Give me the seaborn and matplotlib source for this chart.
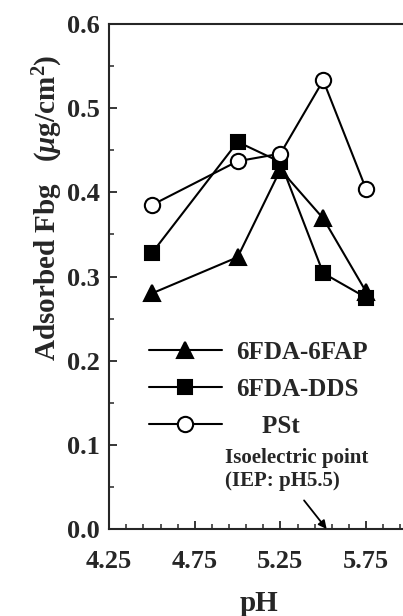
import matplotlib
matplotlib.use("Agg")
import matplotlib.pyplot as plt
import seaborn as sns
import pandas as pd
from matplotlib.ticker import MultipleLocator, FixedLocator

# values
ph = [4.5, 5.0, 5.25, 5.5, 5.75]
fap_6fda = [0.280, 0.323, 0.427, 0.369, 0.282]
dds_6fda = [0.328, 0.460, 0.436, 0.304, 0.275]
pst = [0.385, 0.437, 0.446, 0.533, 0.404]

series_names = ["6FDA-6FAP", "6FDA-DDS", "    PSt"]
x_ticks = [4.25, 4.75, 5.25, 5.75]

sns.set_style("ticks")
plt.rcParams["font.family"] = ["Liberation Serif", "DejaVu Serif"]
plt.rcParams["font.weight"] = "bold"
plt.rcParams["mathtext.fontset"] = "custom"
plt.rcParams["mathtext.rm"] = "Liberation Serif:bold"
plt.rcParams["mathtext.it"] = "Liberation Serif:italic:bold"
plt.rcParams["mathtext.bf"] = "Liberation Serif:bold"

df = pd.DataFrame({
    "pH": ph * 3,
    "Fbg": fap_6fda + dds_6fda + pst,
    "series": [series_names[0]] * 5 + [series_names[1]] * 5 + [series_names[2]] * 5,
})

fig = plt.figure(figsize=(4.03, 6.16), dpi=100)
ax = fig.add_axes([0.271, 0.1412, 0.7435, 0.8198])

styles = {
    series_names[0]: dict(marker="^", markersize=12, markerfacecolor="black"),
    series_names[1]: dict(marker="s", markersize=10.5, markerfacecolor="black"),
    series_names[2]: dict(marker="o", markersize=11, markerfacecolor="white"),
}
for name in series_names:
    sub = df[df["series"] == name]
    sns.lineplot(data=sub, x="pH", y="Fbg", ax=ax, color="black", linewidth=1.5,
                 markeredgecolor="black", markeredgewidth=1.5, label=name,
                 **styles[name])

ax.set_xlim(4.25, 6.0)
ax.set_ylim(0.0, 0.6)
ax.xaxis.set_major_locator(FixedLocator(x_ticks))
ax.xaxis.set_minor_locator(FixedLocator([4.35, 4.45, 4.55, 4.65, 4.85, 4.95, 5.05, 5.15,
                                         5.35, 5.45, 5.55, 5.65, 5.85, 5.95]))
ax.yaxis.set_major_locator(MultipleLocator(0.1))
ax.yaxis.set_minor_locator(MultipleLocator(0.05))
ax.xaxis.set_major_formatter(plt.FuncFormatter(lambda v, p: f"{v:.2f}"))
ax.yaxis.set_major_formatter(plt.FuncFormatter(lambda v, p: f"{v:.1f}"))

ax.tick_params(axis="both", which="major", direction="in", length=6, width=1.3,
               labelsize=19)
ax.tick_params(axis="x", which="major", pad=15)
ax.tick_params(axis="y", which="major", pad=6.5)
ax.tick_params(axis="both", which="minor", direction="in", length=3.5, width=1.1)
for lab in ax.get_xticklabels() + ax.get_yticklabels():
    lab.set_fontweight("bold")

for side in ["left", "bottom", "top"]:
    ax.spines[side].set_visible(True)
    ax.spines[side].set_linewidth(1.5)
ax.spines["right"].set_visible(False)

ax.set_xlabel("pH", fontsize=21, fontweight="bold", labelpad=12)
ax.set_ylabel(r"Adsorbed Fbg   ($\mu$g/cm$^{2}$)", fontsize=21, fontweight="bold")
ax.yaxis.set_label_coords(-0.146, 0.636)

leg = ax.legend(loc="upper left", bbox_to_anchor=(0.133, 0.372), frameon=False,
                handlelength=2.9, handletextpad=0.6, labelspacing=0.55,
                borderpad=0, borderaxespad=0, prop={"size": 18, "weight": "bold"})

# the note and its arrow are drawn separately so the arrow can start left of centre
ax.text(4.926, 0.071, "Isoelectric point\n(IEP: pH5.5)", fontsize=15, fontweight="bold",
        ha="left", va="center", linespacing=1.2)
ax.annotate("", xy=(5.52, 0.0), xytext=(5.388, 0.034),
            arrowprops=dict(arrowstyle="-|>", color="black", lw=1.3,
                            shrinkA=0, shrinkB=0, mutation_scale=12))

fig.savefig("out.png", dpi=100)
